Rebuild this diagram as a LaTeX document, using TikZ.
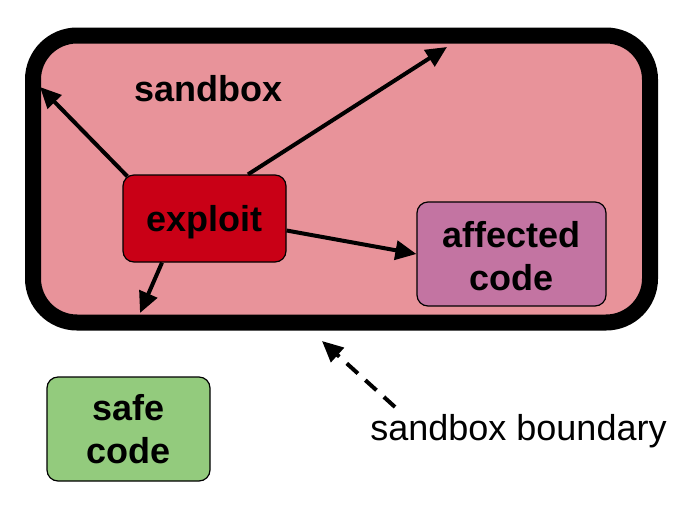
\documentclass[tikz,border=0pt]{standalone}
\usepackage{fontspec}
\setmainfont{Liberation Sans}
\usetikzlibrary{arrows.meta,calc}
\definecolor{sandfill}{HTML}{E8939A}
\definecolor{exploitfill}{HTML}{C90016}
\definecolor{affectfill}{HTML}{C374A2}
\definecolor{safefill}{HTML}{93CB7D}
\tikzset{
  box/.style={draw=black,line width=1.2pt,rounded corners=11pt,align=center,
    font=\fontsize{36}{43}\selectfont\bfseries,inner sep=0pt},
  arr/.style={line width=4pt,-{Triangle[length=21pt,width=19pt]}},
  bigtext/.style={font=\fontsize{36}{43}\selectfont},
}
\begin{document}
\begin{tikzpicture}[x=1pt,y=-1pt]
\useasboundingbox (0,0) rectangle (690,515);
\draw[line width=16pt,fill=sandfill,rounded corners=44pt] (33,35.5) rectangle (650,322.5);
\node[bigtext,font=\fontsize{36}{43}\selectfont\bfseries,anchor=base] (sbx) at (208.5,101) {sandbox};
\node[box,fill=exploitfill,minimum width=163pt,minimum height=87pt,text height=26pt,text depth=0pt] (exploit) at (204.5,218.5) {exploit};
\node[box,fill=affectfill,minimum width=189pt,minimum height=104pt] (affected) at (511.5,254) {\strut affected\\code};
\node[box,fill=safefill,minimum width=163pt,minimum height=104pt] (safe) at (128.5,429) {safe\\code};
\node[bigtext,anchor=base] (bnd) at (518.5,440) {sandbox boundary};
\coordinate (tl) at (40,87);
\coordinate (tr) at (447,47);
\coordinate (dn) at (140,313);
\coordinate (bstart) at (395,407);
\coordinate (btip) at (322,341);
\draw[arr] ($(exploit.north west)+(5,2)$) -- (tl);
\draw[arr] ($(exploit.north)+(43.5,0)$) -- (tr);
\draw[arr] ($(exploit.south)+(-42.5,0)$) -- (dn);
\draw[arr] ($(exploit.east)+(0,12)$) -- (affected.west);
\draw[arr,dash pattern=on 15pt off 10pt] (bstart) -- (btip);
\end{tikzpicture}
\end{document}
